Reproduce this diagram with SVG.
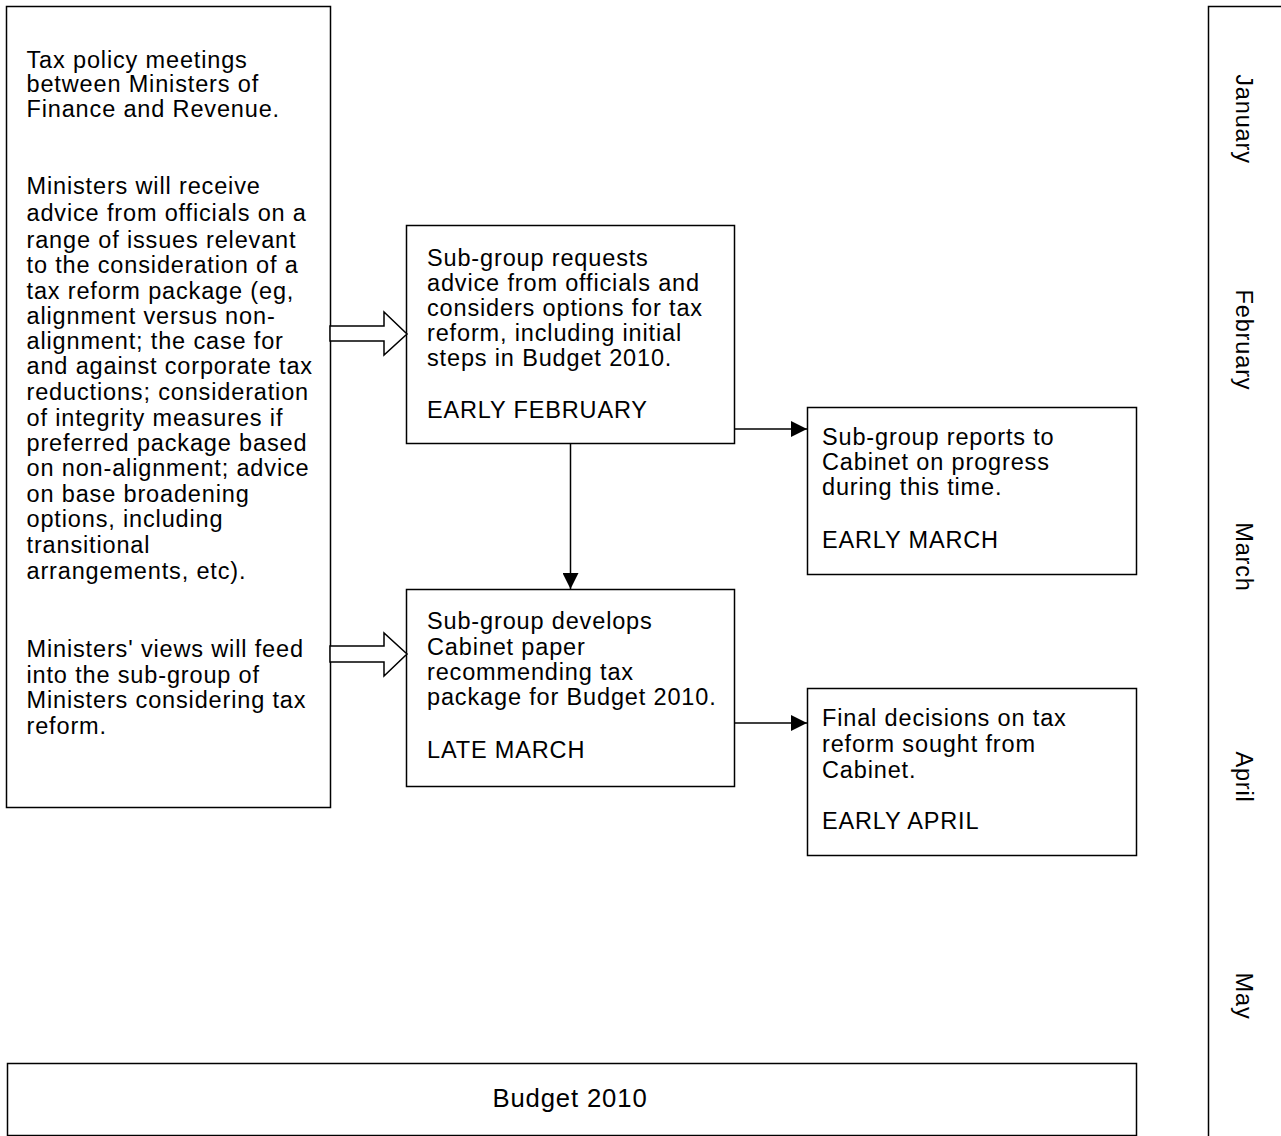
<svg xmlns="http://www.w3.org/2000/svg" width="1281" height="1136" viewBox="0 0 1281 1136">
<defs>
<marker id="arr" viewBox="0 0 10 10" refX="10" refY="5" markerWidth="16" markerHeight="16" markerUnits="userSpaceOnUse" orient="auto">
<path d="M0,0 L10,5 L0,10 Z" fill="#000"/>
</marker>
<style>
.box{fill:#fff;stroke:#000;stroke-width:1.5}
.t{font-family:"Liberation Sans",Arial,sans-serif;font-size:23.5px;letter-spacing:0.85px;fill:#000}
.c{stroke:#000;stroke-width:1.5;fill:none}
.blk{fill:#fff;stroke:#000;stroke-width:1.5}
</style>
</defs>
<rect width="1281" height="1136" fill="#fff"/>
<g id="timeline">
<rect class="box" x="1208.5" y="6.5" width="80" height="1140"/>
<text class="t" transform="translate(1236,119) rotate(90)" text-anchor="middle">January</text>
<text class="t" transform="translate(1236,340) rotate(90)" text-anchor="middle">February</text>
<text class="t" transform="translate(1236,557) rotate(90)" text-anchor="middle">March</text>
<text class="t" transform="translate(1236,777) rotate(90)" text-anchor="middle">April</text>
<text class="t" transform="translate(1236,996) rotate(90)" text-anchor="middle">May</text>
</g>
<g id="ministers">
<rect class="box" x="6.5" y="6.5" width="324" height="801"/>
<text class="t">
<tspan x="26.5" y="67.5">Tax policy meetings</tspan>
<tspan x="26.5" y="92">between Ministers of</tspan>
<tspan x="26.5" y="117">Finance and Revenue.</tspan>
<tspan x="26.5" y="194">Ministers will receive</tspan>
<tspan x="26.5" y="221">advice from officials on a</tspan>
<tspan x="26.5" y="248">range of issues relevant</tspan>
<tspan x="26.5" y="273">to the consideration of a</tspan>
<tspan x="26.5" y="299">tax reform package (eg,</tspan>
<tspan x="26.5" y="324">alignment versus non-</tspan>
<tspan x="26.5" y="349">alignment; the case for</tspan>
<tspan x="26.5" y="374">and against corporate tax</tspan>
<tspan x="26.5" y="400">reductions; consideration</tspan>
<tspan x="26.5" y="426">of integrity measures if</tspan>
<tspan x="26.5" y="451">preferred package based</tspan>
<tspan x="26.5" y="476">on non-alignment; advice</tspan>
<tspan x="26.5" y="502">on base broadening</tspan>
<tspan x="26.5" y="527">options, including</tspan>
<tspan x="26.5" y="553">transitional</tspan>
<tspan x="26.5" y="579">arrangements, etc).</tspan>
<tspan x="26.5" y="657">Ministers' views will feed</tspan>
<tspan x="26.5" y="683">into the sub-group of</tspan>
<tspan x="26.5" y="708">Ministers considering tax</tspan>
<tspan x="26.5" y="734">reform.</tspan>
</text>
</g>
<g id="subgroup-requests">
<rect class="box" x="406.5" y="225.5" width="328" height="218"/>
<text class="t">
<tspan x="427" y="266">Sub-group requests</tspan>
<tspan x="427" y="291">advice from officials and</tspan>
<tspan x="427" y="316">considers options for tax</tspan>
<tspan x="427" y="341">reform, including initial</tspan>
<tspan x="427" y="366">steps in Budget 2010.</tspan>
<tspan x="427" y="418">EARLY FEBRUARY</tspan>
</text>
</g>
<g id="subgroup-reports">
<rect class="box" x="807.5" y="407.5" width="329" height="167"/>
<text class="t">
<tspan x="822" y="445">Sub-group reports to</tspan>
<tspan x="822" y="470">Cabinet on progress</tspan>
<tspan x="822" y="495">during this time.</tspan>
<tspan x="822" y="548">EARLY MARCH</tspan>
</text>
</g>
<g id="subgroup-develops">
<rect class="box" x="406.5" y="589.5" width="328" height="197"/>
<text class="t">
<tspan x="427" y="629">Sub-group develops</tspan>
<tspan x="427" y="655">Cabinet paper</tspan>
<tspan x="427" y="680">recommending tax</tspan>
<tspan x="427" y="705">package for Budget 2010.</tspan>
<tspan x="427" y="758">LATE MARCH</tspan>
</text>
</g>
<g id="final-decisions">
<rect class="box" x="807.5" y="688.5" width="329" height="167"/>
<text class="t">
<tspan x="822" y="726">Final decisions on tax</tspan>
<tspan x="822" y="752">reform sought from</tspan>
<tspan x="822" y="778">Cabinet.</tspan>
<tspan x="822" y="829">EARLY APRIL</tspan>
</text>
</g>
<g id="budget">
<rect class="box" x="7.5" y="1063.5" width="1129" height="72"/>
<text class="t" x="570" y="1107" text-anchor="middle" style="font-size:25.7px">Budget 2010</text>
</g>
<g id="connectors">
<polygon class="blk" points="330,326 384,326 384,312 407,334 384,355 384,341 330,341"/>
<polygon class="blk" points="330,646 384,646 384,633 407,654 384,676 384,662 330,662"/>
<line class="c" x1="735" y1="429" x2="807" y2="429" marker-end="url(#arr)"/>
<line class="c" x1="570.5" y1="444" x2="570.5" y2="589" marker-end="url(#arr)"/>
<line class="c" x1="735" y1="723" x2="807" y2="723" marker-end="url(#arr)"/>
</g>
</svg>
